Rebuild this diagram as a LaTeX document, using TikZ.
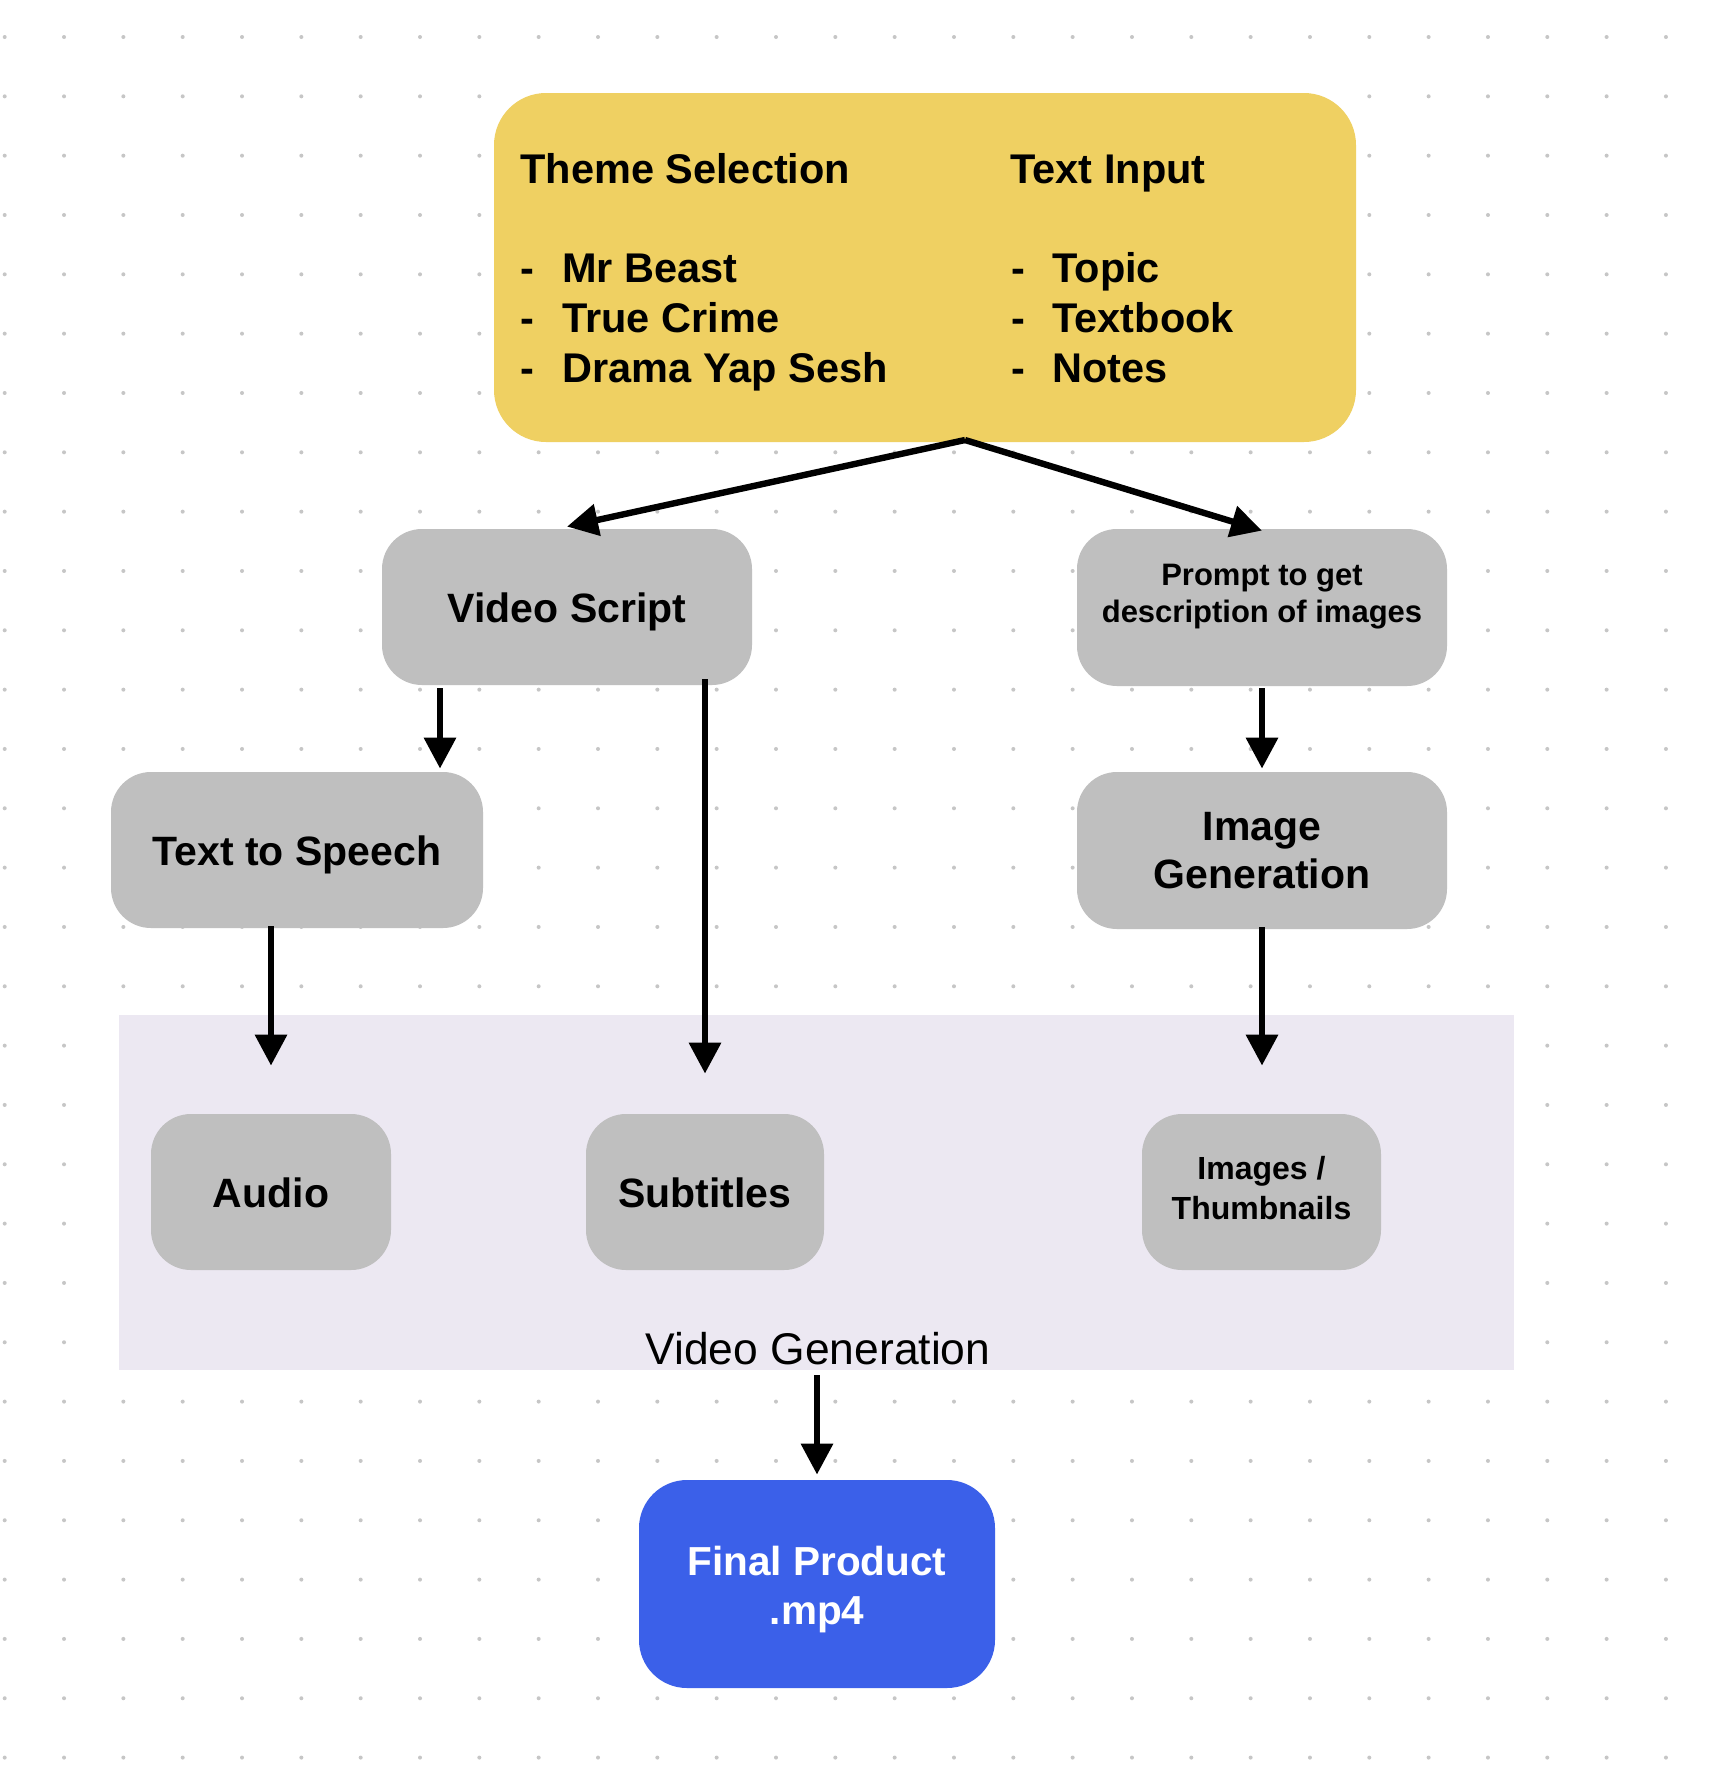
\documentclass[tikz,border=0pt]{standalone}
\usepackage{fontspec}
\setmainfont{Liberation Sans}
\usetikzlibrary{arrows.meta}
\definecolor{cYellow}{HTML}{EFD062}
\definecolor{cGray}{HTML}{BFBFBF}
\definecolor{cLav}{HTML}{ECE8F2}
\definecolor{cBlue}{HTML}{3B60E9}
\definecolor{cDot}{HTML}{C6C6C6}
\tikzset{
  graybox/.style={fill=cGray, rounded corners=20pt, inner sep=0pt, align=center,
    font=\bfseries\fontsize{20.5}{24}\selectfont},
  capc/.style={text height=15.4pt, text depth=0pt},
  ytext/.style={anchor=base west, inner sep=0pt, font=\bfseries\fontsize{20.75}{25}\selectfont},
  arr/.style={line width=3.2pt, -{Triangle[length=15.5pt,width=15.5pt]}},
}
\begin{document}
\begin{tikzpicture}[x=0.5pt,y=-0.5pt]
\useasboundingbox (0,0) rectangle (1722,1774);
\fill[white] (0,0) rectangle (1722,1774);
% dotted grid
\foreach \i in {0,...,28}{
  \foreach \j in {0,...,29}{
    \fill[cDot] ({4.7+59.33*\i},{37+59.33*\j}) circle[radius=1pt];
  }
}
% top yellow box
\node[fill=cYellow, rounded corners=26pt, minimum width=431pt, minimum height=174.5pt, inner sep=0pt] (top) at (925,267.5) {};
\node[ytext] (ts) at (520,183) {Theme Selection};
\node[ytext] (ts1d) at (520,282) {-};
\node[ytext] (ts1) at (562,282) {Mr Beast};
\node[ytext] (ts2d) at (520,332) {-};
\node[ytext] (ts2) at (562,332) {True Crime};
\node[ytext] (ts3d) at (520,382) {-};
\node[ytext] (ts3) at (562,382) {Drama Yap Sesh};
\node[ytext] (ti) at (1010,183) {Text Input};
\node[ytext] (ti1d) at (1011,282) {-};
\node[ytext] (ti1) at (1052,282) {Topic};
\node[ytext] (ti2d) at (1011,332) {-};
\node[ytext] (ti2) at (1052,332) {Textbook};
\node[ytext] (ti3d) at (1011,382) {-};
\node[ytext] (ti3) at (1052,382) {Notes};
\coordinate (split) at (965,440);
% second row
\node[graybox, capc, minimum width=185pt, minimum height=78pt] (vs) at (567,607) {Video Script};
\node[graybox, minimum width=185pt, minimum height=78.5pt] (pr) at (1262,607.5) {};
\node[inner sep=0pt, align=center, font=\bfseries\fontsize{15.5}{18.5}\selectfont] (prl) at (1262,597) {Prompt to get\\description of images};
% third row
\node[graybox, capc, minimum width=186pt, minimum height=78pt] (tts) at (297,850) {Text to Speech};
\node[graybox, minimum width=185pt, minimum height=78.5pt] (ig) at (1262,850.5) {Image\\Generation};
% video generation group
\node[fill=cLav, minimum width=697.5pt, minimum height=177.5pt, inner sep=0pt] (vg) at (816.5,1192.5) {};
\node[anchor=base, inner sep=0pt, font=\fontsize{22.2}{26}\selectfont] (vgl) at (818,1364) {Video Generation};
\node[graybox, capc, minimum width=120pt, minimum height=78pt] (au) at (271,1192) {Audio};
\node[graybox, capc, minimum width=119pt, minimum height=78pt] (sub) at (705,1192) {Subtitles};
\node[graybox, minimum width=119.5pt, minimum height=78pt] (img) at (1261.5,1192) {};
\node[inner sep=0pt, align=center, font=\bfseries\fontsize{16}{20}\selectfont] (imgl) at (1261.5,1188.5) {Images /\\Thumbnails};
% final
\node[fill=cBlue, rounded corners=24pt, minimum width=178pt, minimum height=104pt, inner sep=0pt] (fin) at (817,1584) {};
\node[inner sep=0pt, align=center, text=white, font=\bfseries\fontsize{20.25}{24.5}\selectfont] (finl) at (817,1589.5) {Final Product\\.mp4};
% connectors
\draw[arr] (split) -- ([yshift=1pt]vs.north);
\draw[arr] (split) -- ([yshift=-1pt]pr.north);
\draw[arr] ([xshift=-63.5pt,yshift=-1.5pt]vs.south) -- ([xshift=-63.5pt,yshift=1.5pt]vs.south |- tts.north);
\draw[arr] ([yshift=3pt]vs.south -| sub.north) -- ([yshift=20pt]sub.north);
\draw[arr] ([yshift=-1pt]pr.south) -- ([yshift=1.5pt]ig.north);
\draw[arr] ([yshift=1pt]tts.south -| au.north) -- ([yshift=24pt]au.north);
\draw[arr] ([yshift=1pt]ig.south) -- ([yshift=24pt]img.north -| ig.south);
\draw[arr] ([yshift=-2.5pt]vg.south -| fin.north) -- ([yshift=2.5pt]fin.north);
\end{tikzpicture}
\end{document}
